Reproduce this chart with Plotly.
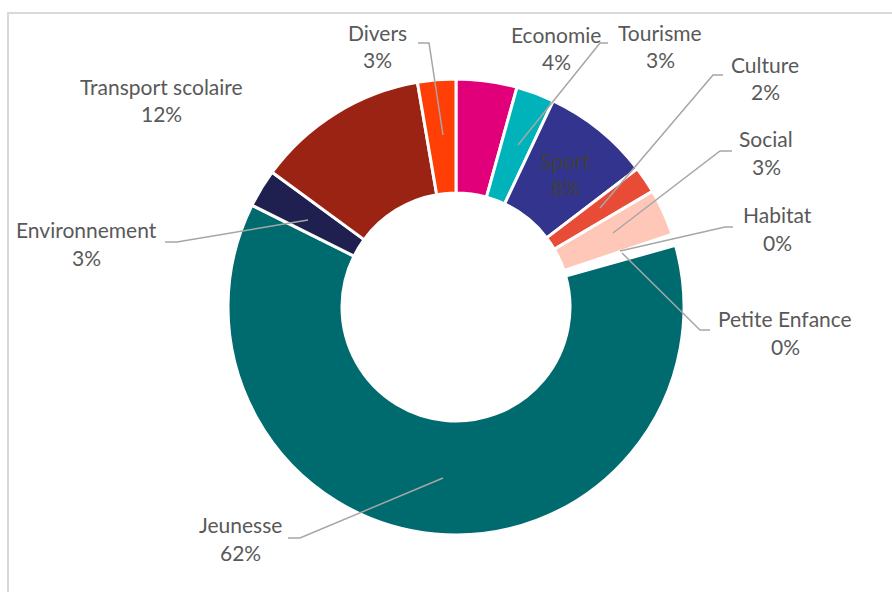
import plotly.graph_objects as go

labels = ["Economie", "Tourisme", "Sport", "Culture", "Social", "Habitat",
          "Petite Enfance", "Jeunesse", "Environnement", "Transport scolaire", "Divers"]
values = [4.3, 2.7, 7.6, 1.9, 3.3, 0.4, 0.4, 61.6, 2.7, 12.2, 2.7]
pct_text = ["4%", "3%", "8%", "2%", "3%", "0%", "0%", "62%", "3%", "12%", "3%"]
colors = ["#E2007A", "#00B3BB", "#33348E", "#E84C36", "#FFC7B8", "#FFFFFF",
          "#FFFFFF", "#006B6F", "#1F1F50", "#9B2313", "#FF3F05"]

W, H = 892, 592
def px(x): return x / W
def py(y): return 1 - y / H

# label block centres (pixels): name line y, percent line y
label_pos = {
    "Divers": (377, 33, 60),
    "Economie": (556, 35, 61),
    "Tourisme": (660, 33, 60),
    "Culture": (765, 64, 92),
    "Social": (766, 139, 167),
    "Habitat": (777, 214, 242),
    "Petite Enfance": (785, 318, 346),
    "Jeunesse": (240, 524, 552),
    "Environnement": (86, 229, 257),
    "Transport scolaire": (161, 86, 114),
    "Sport": (565, 160, 187),
}
leaders = {
    "Divers": [(418, 43), (429, 43), (443, 135)],
    "Economie": [(608, 43), (600, 43), (518, 145)],
    "Culture": [(723, 75), (713, 75), (600, 208)],
    "Social": [(732, 151), (720, 151), (613, 233)],
    "Habitat": [(733, 227), (725, 227), (620, 251)],
    "Petite Enfance": [(710, 330), (700, 330), (622, 253)],
    "Environnement": [(165, 242), (177, 242), (308, 220)],
    "Jeunesse": [(288, 538), (300, 538), (443, 478)],
}

cx, cy, R = 456, 307, 228
fig = go.Figure(go.Pie(
    labels=labels, values=values, sort=False, direction="clockwise", rotation=0,
    hole=0.5, textinfo="none", hoverinfo="label+percent",
    marker=dict(colors=colors, line=dict(color="#FFFFFF", width=3)),
    domain=dict(x=[px(cx - R), px(cx + R)], y=[py(cy + R), py(cy - R)]),
    showlegend=False,
))

annotations = []
font_name = "Lato"
for lab, pct in zip(labels, pct_text):
    x, y1, y2 = label_pos[lab]
    col = "#3F3F3F" if lab == "Sport" else "#595959"
    for txt, yy in ((lab, y1), (pct, y2)):
        annotations.append(dict(
            x=px(x), y=py(yy), xref="paper", yref="paper", text=txt,
            showarrow=False, xanchor="center", yanchor="middle",
            font=dict(family=font_name, size=21, color=col)))

shapes = [dict(type="rect", xref="paper", yref="paper",
               x0=px(8), y0=py(600), x1=px(900), y1=py(13),
               line=dict(color="#D9D9D9", width=2), layer="below")]
for lab, pts in leaders.items():
    path = "M " + " L ".join(f"{px(a):.5f},{py(b):.5f}" for a, b in pts)
    shapes.append(dict(type="path", xref="paper", yref="paper", path=path,
                       line=dict(color="#A6A6A6", width=1.5)))

fig.update_layout(
    width=W, height=H, margin=dict(l=0, r=0, t=0, b=0),
    paper_bgcolor="#FFFFFF", plot_bgcolor="#FFFFFF",
    annotations=annotations, shapes=shapes,
)
fig.write_html("out.html")
